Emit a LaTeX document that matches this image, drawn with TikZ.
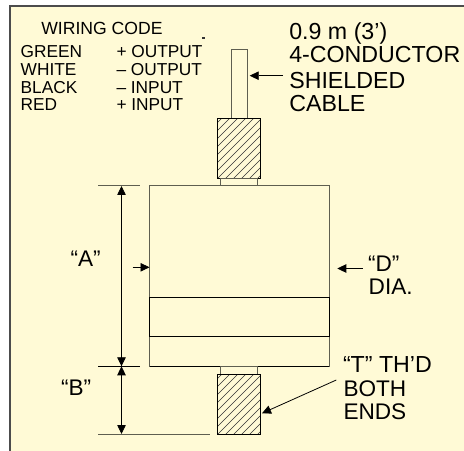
\documentclass[tikz,border=0pt]{standalone}
\usepackage{fontspec}
\setmainfont{Liberation Sans}
\usetikzlibrary{arrows.meta}
\definecolor{paper}{HTML}{FFFAD6}
\definecolor{edge}{HTML}{5E5E50}
\tikzset{
  every node/.style={inner sep=0pt,outer sep=0pt,anchor=base west,text=black},
  code/.style={font=\fontsize{17.3bp}{17.3bp}\selectfont},
  titlefont/.style={font=\fontsize{17.6bp}{17.6bp}\selectfont},
  cablefont/.style={font=\fontsize{23.2bp}{23.2bp}\selectfont},
  dimfont/.style={font=\fontsize{22.6bp}{22.6bp}\selectfont},
  threadfont/.style={font=\fontsize{23.2bp}{23.2bp}\selectfont},
  outline/.style={draw=edge,line width=1bp},
  thin line/.style={draw=black,line width=0.9bp},
  tip/.style={-{Triangle[length=9bp,width=8.5bp]},draw=black,line width=0.8bp},
  twotip/.style={{Triangle[length=9bp,width=8.5bp]}-{Triangle[length=9bp,width=8.5bp]},draw=black,line width=0.8bp},
  hatchline/.style={draw=black!80,line width=0.6bp}
}
\begin{document}
\begin{tikzpicture}[x=1bp,y=-1bp]
\useasboundingbox (0,0) rectangle (464,451);
\fill[white] (0,0) rectangle (464,451);
\fill[paper] (10,6) rectangle (464,451);
\draw[draw=black!70,line width=1.2bp] (10,451) -- (10,6) -- (464,6);
% cable
\draw[outline,fill=paper] (231,118) -- (231,49.5) -- (247.7,49.5) -- (247.7,118);
% upper fitting
\begin{scope}
\clip (217.5,118.3) rectangle (260.7,178.5);
\foreach \k in {-72,-64,...,56} {\draw[hatchline] (210+\k,186) -- (210+\k+75,111);}
\end{scope}
\draw[thin line] (217.5,118.3) rectangle (260.7,178.5);
\draw[outline] (220.7,178.5) rectangle (257.7,186);
% body
\draw[outline] (149.7,186) rectangle (329,366.3);
\draw[thin line] (149.7,297) rectangle (329,336.3);
\draw[thin line] (149.7,366.3) -- (329,366.3);
% lower fitting
\draw[outline] (220.7,366.3) rectangle (257.7,374.5);
\begin{scope}
\clip (217.5,374.5) rectangle (260.7,434.3);
\foreach \k in {-72,-64,...,56} {\draw[hatchline] (210+\k,442) -- (210+\k+75,367);}
\end{scope}
\draw[thin line] (217.5,374.5) rectangle (260.7,434.3);
% extension lines
\coordinate (atop) at (121.5,186);
\coordinate (amid) at (121.5,366.3);
\coordinate (bbot) at (121.5,434);
\draw[outline] (98,186) -- (140,186);
\draw[thin line] (98,366.3) -- (140,366.3);
\draw[outline] (98,434.3) -- (209.5,434.3);
\draw[twotip] (atop) -- (amid);
\draw[twotip] (amid) -- (bbot);
% labels
\node[titlefont] (wc) at (41.3,35) {WIRING CODE};
\node[code] (c1) at (20.7,58) {GREEN};
\node[code] (c2) at (20.7,76) {WHITE};
\node[code] (c3) at (20.7,94) {BLACK};
\node[code] (c4) at (20.7,111) {RED};
\node[code] (f1) at (116.5,58) {+ OUTPUT};
\node[code] (f2) at (116.5,76) {– OUTPUT};
\node[code] (f3) at (116.5,94) {– INPUT};
\node[code] (f4) at (116.5,111) {+ INPUT};
\fill[black!80] (202,37.5) rectangle (204.5,39);
\node[cablefont] (k1) at (289.3,39.3) {0.9 m (3')};
\node[cablefont] (k2) at (289.3,62.7) {4-CONDUCTOR};
\node[cablefont] (k3) at (289.3,88.3) {SHIELDED};
\node[cablefont] (k4) at (289.3,111.7) {CABLE};
\node[dimfont] (la) at (70.5,266.7) {“A”};
\node[dimfont] (lb) at (61,395) {“B”};
\node[dimfont] (ld) at (368,271.7) {“D”};
\node[dimfont] (ld2) at (368.7,294.3) {DIA.};
\node[threadfont] (lt) at (343,372.7) {“T” TH’D};
\node[dimfont] (lt2) at (343.5,396.7) {BOTH};
\node[dimfont] (lt3) at (343.5,419.3) {ENDS};
% leaders
\coordinate (c0) at (283,75.7);
\coordinate (c9) at (249.7,75.7);
\draw[tip] (c0) -- (c9);
\coordinate (l0) at (132.7,267.3);
\coordinate (l9) at (149.5,267.3);
\draw[tip] (l0) -- (l9);
\coordinate (r0) at (362.7,268.5);
\coordinate (r9) at (337.3,268.5);
\draw[tip] (r0) -- (r9);
\coordinate (t0) at (336.3,380);
\coordinate (t9) at (262,413.3);
\draw[tip] (t0) -- (t9);
\end{tikzpicture}
\end{document}
